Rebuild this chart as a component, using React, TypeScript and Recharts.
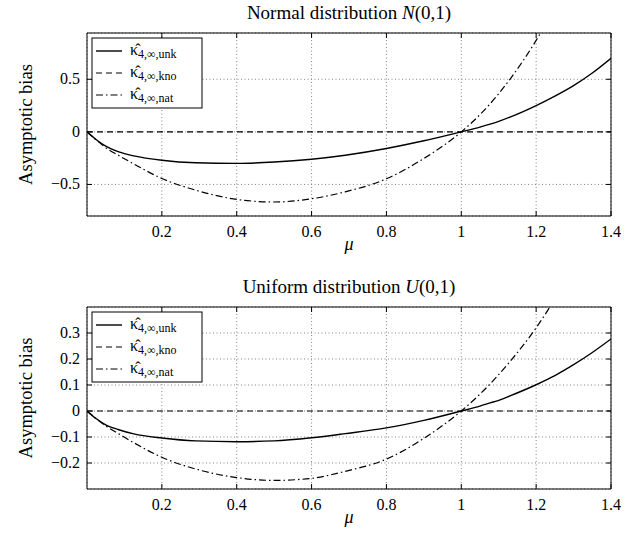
import React from 'react';
import { LineChart, Line, XAxis, YAxis, CartesianGrid, ReferenceArea } from 'recharts';

const mu = [0, 0.025, 0.05, 0.085, 0.125, 0.2, 0.29, 0.4, 0.5, 0.6, 0.69, 0.8, 0.9, 1.0, 1.05, 1.077, 1.1, 1.13, 1.2, 1.25, 1.3, 1.35, 1.4];

const normalUnk = [0, -0.075, -0.136, -0.19, -0.228, -0.27, -0.294, -0.3, -0.287, -0.26, -0.222, -0.158, -0.085, 0, 0.045, 0.073, 0.1, 0.14, 0.25, 0.34, 0.44, 0.56, 0.7];
const normalKno = [0, 0, 0, 0, 0, 0, 0, 0, 0, 0, 0, 0, 0, 0, 0, 0, 0, 0, 0, 0, 0, 0, 0];
const normalNat = [0, -0.078, -0.15, -0.225, -0.305, -0.443, -0.554, -0.642, -0.667, -0.636, -0.57, -0.446, -0.253, 0, 0.164, 0.267, 0.363, 0.5, 0.87, 1.18, null, null, null];

const uniformUnk = [0, -0.03, -0.053, -0.072, -0.088, -0.104, -0.115, -0.118, -0.115, -0.103, -0.087, -0.065, -0.036, 0, 0.019, 0.031, 0.041, 0.058, 0.101, 0.136, 0.178, 0.225, 0.277];
const uniformKno = [0, 0, 0, 0, 0, 0, 0, 0, 0, 0, 0, 0, 0, 0, 0, 0, 0, 0, 0, 0, 0, 0, 0];
const uniformNat = [0, -0.03, -0.057, -0.088, -0.122, -0.178, -0.223, -0.256, -0.267, -0.259, -0.232, -0.185, -0.105, 0, 0.065, 0.104, 0.14, 0.19, 0.32, 0.43, null, null, null];

const xTicks = [0.2, 0.4, 0.6, 0.8, 1, 1.2, 1.4];
const normalYTicks = [-0.5, 0, 0.5];
const uniformYTicks = [-0.2, -0.1, 0, 0.1, 0.2, 0.3];
const seriesSubs = ['4,∞,unk', '4,∞,kno', '4,∞,nat'];

const W = 643;
const H = 270;
const LEFT = 87;
const RIGHT = 32;
const FONT = '"Liberation Serif", "Times New Roman", serif';

const fmt = (v: number) => (v < 0 ? '\u2212' + String(Math.abs(v)) : String(v));

const DASH_KNO = '6 4';
const DASH_NAT = '7 3 1.5 3';

function XTick(props: any) {
  const { x, y, payload, plotH } = props;
  return (
    <g>
      <line x1={x} y1={y} x2={x} y2={y - 5} stroke="#000" strokeWidth={1} />
      <line x1={x} y1={y - plotH} x2={x} y2={y - plotH + 5} stroke="#000" strokeWidth={1} />
      <text x={x} y={y + 21} textAnchor="middle" fontFamily={FONT} fontSize={16} fill="#000">
        {fmt(payload.value)}
      </text>
    </g>
  );
}

function YTick(props: any) {
  const { x, y, payload, plotW } = props;
  return (
    <g>
      <line x1={x} y1={y} x2={x + 5} y2={y} stroke="#000" strokeWidth={1} />
      <line x1={x + plotW} y1={y} x2={x + plotW - 5} y2={y} stroke="#000" strokeWidth={1} />
      <text x={x - 7} y={y + 5} textAnchor="end" fontFamily={FONT} fontSize={16} fill="#000">
        {fmt(payload.value)}
      </text>
    </g>
  );
}

function Panel(props: any) {
  const { unk, kno, nat, yDomain, yTicks, marginTop, xAxisH, titleA, titleB, titleC, legendTop } = props;
  const plotH = H - marginTop - xAxisH;
  const plotW = W - LEFT - RIGHT;
  const plotBottom = marginTop + plotH;
  const cx = LEFT + plotW / 2;
  const data = mu.map((m, i) => ({ mu: m, unk: unk[i], kno: kno[i], nat: nat[i] }));
  const rows = [legendTop + 13, legendTop + 35, legendTop + 57];
  const dashes = [undefined, DASH_KNO, DASH_NAT];
  return (
    <div style={{ position: 'relative', width: W, height: H }}>
      <LineChart width={W} height={H} data={data} margin={{ top: marginTop, right: RIGHT, bottom: 0, left: 0 }}>
        <CartesianGrid stroke="#777" strokeDasharray="1 2.5" strokeWidth={0.9} />
        <XAxis
          dataKey="mu"
          type="number"
          domain={[0, 1.4]}
          ticks={xTicks}
          interval={0}
          height={xAxisH}
          tickSize={0}
          tickMargin={0}
          axisLine={false}
          tickLine={false}
          allowDataOverflow
          tick={(p: any) => <XTick {...p} plotH={plotH} />}
        />
        <YAxis
          type="number"
          domain={yDomain}
          ticks={yTicks}
          interval={0}
          width={LEFT}
          tickSize={0}
          tickMargin={0}
          axisLine={false}
          tickLine={false}
          allowDataOverflow
          tick={(p: any) => <YTick {...p} plotW={plotW} />}
        />
        <Line dataKey="kno" type="monotone" stroke="#000" strokeWidth={1.2} strokeDasharray={DASH_KNO} dot={false} isAnimationActive={false} />
        <Line dataKey="unk" type="monotone" stroke="#000" strokeWidth={1.4} dot={false} isAnimationActive={false} />
        <Line dataKey="nat" type="monotone" stroke="#000" strokeWidth={1.2} strokeDasharray={DASH_NAT} dot={false} isAnimationActive={false} connectNulls={false} />
        <ReferenceArea x1={0} x2={1.4} y1={yDomain[0]} y2={yDomain[1]} fill="none" fillOpacity={0} stroke="#000" strokeWidth={1} />
      </LineChart>
      <svg width={W} height={H} style={{ position: 'absolute', left: 0, top: 0, pointerEvents: 'none' }}>
        <text x={cx} y={marginTop - 14} textAnchor="middle" fontFamily={FONT} fontSize={19} fill="#000">
          {titleA}
          <tspan fontStyle="italic">{titleB}</tspan>
          {titleC}
        </text>
        <text x={cx} y={plotBottom + 34} textAnchor="middle" fontFamily={FONT} fontSize={18} fontStyle="italic" fill="#000">
          μ
        </text>
        <text
          x={0}
          y={0}
          transform={`translate(32, ${marginTop + plotH / 2}) rotate(-90)`}
          textAnchor="middle"
          fontFamily={FONT}
          fontSize={18.5}
          fill="#000"
        >
          Asymptotic bias
        </text>
        <rect x={92} y={legendTop} width={110} height={70} fill="#fff" stroke="#000" strokeWidth={1} />
        {rows.map((ry, i) => (
          <g key={i}>
            <line x1={96} y1={ry} x2={122} y2={ry} stroke="#000" strokeWidth={i === 0 ? 1.4 : 1.2} strokeDasharray={dashes[i]} />
            <text x={130} y={ry + 4} fontFamily={FONT} fontSize={16} fill="#000">
              κ̂
              <tspan fontSize={12} dy={3}>{seriesSubs[i]}</tspan>
            </text>
          </g>
        ))}
      </svg>
    </div>
  );
}

export default function App() {
  return (
    <div style={{ position: 'absolute', left: 0, top: 0, width: W, height: 540, background: '#fff' }}>
      <Panel
        unk={normalUnk}
        kno={normalKno}
        nat={normalNat}
        yDomain={[-0.8, 0.94]}
        yTicks={normalYTicks}
        marginTop={33}
        xAxisH={54}
        titleA="Normal distribution "
        titleB="N"
        titleC="(0,1)"
        legendTop={38}
      />
      <Panel
        unk={uniformUnk}
        kno={uniformKno}
        nat={uniformNat}
        yDomain={[-0.3, 0.4]}
        yTicks={uniformYTicks}
        marginTop={37}
        xAxisH={51}
        titleA="Uniform distribution "
        titleB="U"
        titleC="(0,1)"
        legendTop={312 - 270}
      />
    </div>
  );
}
